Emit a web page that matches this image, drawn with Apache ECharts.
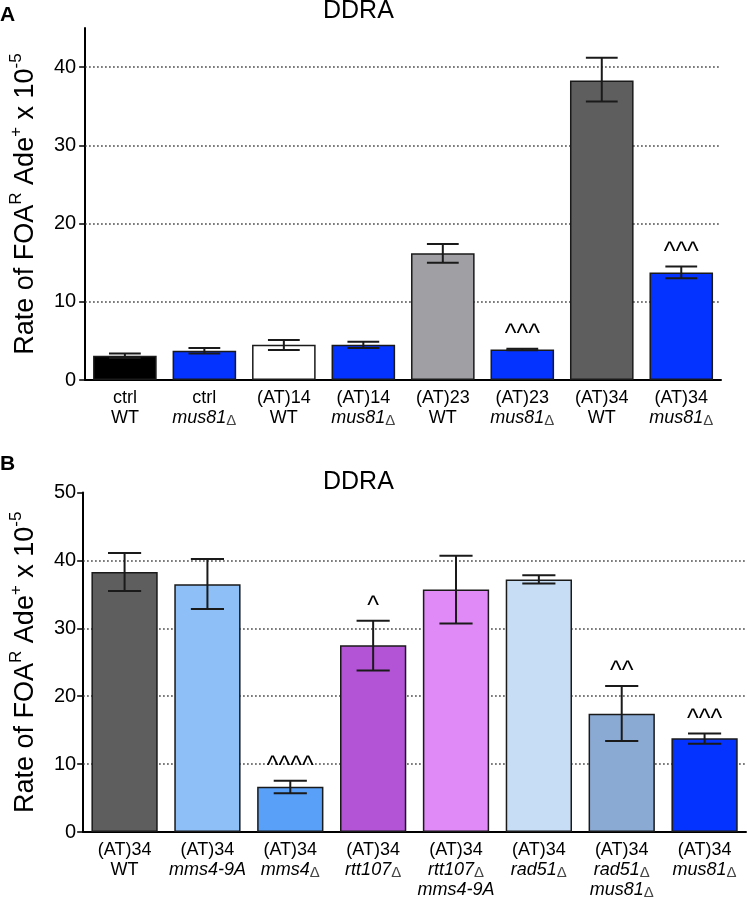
<!DOCTYPE html>
<html>
<head>
<meta charset="utf-8">
<script src="https://cdn.jsdelivr.net/npm/echarts@6/dist/echarts.min.js"></script>
<style>
html,body{margin:0;padding:0;background:#fff;}
#chart{width:747px;height:900px;}
</style>
</head>
<body>
<div id="chart"></div>
<script>
// ---------- DATA ----------
const topLine1 = ['ctrl', 'ctrl', '(AT)14', '(AT)14', '(AT)23', '(AT)23', '(AT)34', '(AT)34'];
const topLine2 = ['WT', 'mus81Δ', 'WT', 'mus81Δ', 'WT', 'mus81Δ', 'WT', 'mus81Δ'];
const topValues = [3.1, 3.75, 4.5, 4.5, 16.2, 3.9, 38.3, 13.75];
const topErrLow = [2.8, 3.4, 3.85, 4.1, 15.0, 3.8, 35.6, 13.0];
const topErrHigh = [3.4, 4.1, 5.1, 4.9, 17.4, 4.0, 41.2, 14.5];
const topMarks = ['', '', '', '', '', '^^^', '', '^^^'];
const topTicks = [0, 10, 20, 30, 40];

const botLine1 = ['(AT)34', '(AT)34', '(AT)34', '(AT)34', '(AT)34', '(AT)34', '(AT)34', '(AT)34'];
const botLine2 = ['WT', 'mms4-9A', 'mms4Δ', 'rtt107Δ', 'rtt107Δ', 'rad51Δ', 'rad51Δ', 'mus81Δ'];
const botLine3 = ['', '', '', '', 'mms4-9A', '', 'mus81Δ', ''];
const botValues = [38.3, 36.5, 6.65, 27.5, 35.7, 37.2, 17.4, 13.8];
const botErrLow = [35.5, 32.85, 5.7, 23.8, 30.7, 36.6, 13.4, 13.0];
const botErrHigh = [41.1, 40.2, 7.55, 31.1, 40.7, 37.8, 21.5, 14.5];
const botMarks = ['', '', '^^^^', '^', '', '', '^^', '^^^'];
const botTicks = [0, 10, 20, 30, 40, 50];

const gridValues = [10, 20, 30, 40];
const yTitle = 'Rate of FOA{s|R} Ade{s|+} x 10{s|-5}';
const panelTitle = 'DDRA';

// ---------- STYLES ----------
const topColors = ['#000000', '#0433ff', '#ffffff', '#0433ff', '#a0a0a4', '#0433ff', '#5e5e5e', '#0433ff'];
const botColors = ['#5e5e5e', '#8ebff7', '#58a0f8', '#b354d6', '#df8af6', '#c7ddf6', '#8aaad4', '#0433ff'];
const FONT = "'Liberation Sans', Arial, Helvetica, sans-serif";
const INK = '#1a1a1a';

function catNames(l1, l2, l3) {
  return l1.map((a, i) => [a, l2[i], l3 ? l3[i] : ''].filter(s => s).join('\n'));
}
function fmtLine(s) {
  if (s === 'WT') return s;
  return s.split('Δ').map(p => p ? '{i|' + p + '}' : '').join('{d|Δ}');
}
function labelFormatter(value) {
  const lines = value.split('\n');
  return lines.map((l, k) => k === 0 ? l : fmtLine(l)).join('\n');
}

const chart = echarts.init(document.getElementById('chart'), null, {renderer: 'canvas'});

function xAxisCfg(gridIndex, data) {
  return {
    type: 'category', gridIndex: gridIndex, data: data,
    axisLine: {lineStyle: {color: '#000', width: 2}},
    axisTick: {alignWithLabel: true, length: 5, lineStyle: {color: '#000', width: 1.5}},
    axisLabel: {
      interval: 0, color: '#000', fontSize: 18, lineHeight: 20, margin: 8, fontFamily: FONT,
      formatter: labelFormatter,
      rich: {
        i: {fontStyle: 'italic', fontSize: 18, lineHeight: 20, color: '#000', fontFamily: FONT},
        d: {fontSize: 15, lineHeight: 15, color: '#444', verticalAlign: 'bottom', fontFamily: FONT}
      }
    },
    splitLine: {show: false}
  };
}
function yAxisCfg(gridIndex, max, ticks, margin, gap) {
  return {
    type: 'value', gridIndex: gridIndex, min: 0, max: max, interval: 10,
    axisLine: {show: true, lineStyle: {color: '#000', width: 2}},
    axisTick: {show: true, length: 6, lineStyle: {color: '#000', width: 1.5}, customValues: ticks},
    axisLabel: {color: '#000', fontSize: 20, margin: margin, fontFamily: FONT, customValues: ticks,
      formatter: v => ticks.indexOf(v) >= 0 ? String(v) : ''},
    splitLine: {show: false},
    name: yTitle, nameLocation: 'middle', nameRotate: 90, nameGap: gap,
    nameTextStyle: {
      color: '#000', fontSize: 27, lineHeight: 35, fontFamily: FONT,
      rich: {s: {fontSize: 17, lineHeight: 17, verticalAlign: 'top', color: '#000', fontFamily: FONT}}
    }
  };
}

function barSeries(axisIndex, values, colors) {
  return {
    type: 'bar', xAxisIndex: axisIndex, yAxisIndex: axisIndex, z: 2,
    barCategoryGap: '20%',
    data: values.map((v, i) => ({value: v, itemStyle: {color: colors[i]}})),
    itemStyle: {borderColor: INK, borderWidth: 1.5},
    emphasis: {disabled: true},
    markLine: {
      silent: true, symbol: 'none', z: 1, animation: false,
      label: {show: false},
      lineStyle: {type: [1.5, 2.5], color: '#333', width: 1.5},
      emphasis: {disabled: true},
      data: gridValues.map(v => ({yAxis: v}))
    }
  };
}
function errSeries(axisIndex, lo, hi) {
  return {
    type: 'custom', xAxisIndex: axisIndex, yAxisIndex: axisIndex, z: 3, silent: true,
    data: lo.map((l, i) => [i, l, hi[i]]),
    encode: {x: 0, y: [1, 2]},
    renderItem: function (params, api) {
      const x = api.value(0);
      const pLo = api.coord([x, api.value(1)]);
      const pHi = api.coord([x, api.value(2)]);
      const hw = api.size([1, 0])[0] * 0.2;
      const st = {stroke: INK, lineWidth: 2};
      return {type: 'group', children: [
        {type: 'line', shape: {x1: pLo[0], y1: pLo[1], x2: pHi[0], y2: pHi[1]}, style: st},
        {type: 'line', shape: {x1: pHi[0] - hw, y1: pHi[1], x2: pHi[0] + hw, y2: pHi[1]}, style: st},
        {type: 'line', shape: {x1: pLo[0] - hw, y1: pLo[1], x2: pLo[0] + hw, y2: pLo[1]}, style: st}
      ]};
    }
  };
}
function markSeries(axisIndex, marks, hi) {
  const data = [];
  marks.forEach((m, i) => { if (m) data.push([i, hi[i]]); });
  return {
    type: 'custom', xAxisIndex: axisIndex, yAxisIndex: axisIndex, z: 4, silent: true,
    data: data, encode: {x: 0, y: 1},
    renderItem: function (params, api) {
      const idx = api.value(0);
      const p = api.coord([idx, api.value(1)]);
      return {type: 'text', x: p[0], y: p[1] - 1,
        style: {text: marks[idx], fill: '#000', font: '25px ' + FONT, align: 'center', verticalAlign: 'bottom'}};
    }
  };
}

const option = {
  animation: false,
  backgroundColor: '#fff',
  textStyle: {fontFamily: FONT},
  grid: [
    {left: 72, right: 26, top: 28, height: 352},
    {left: 68, right: 1, top: 492.5, height: 340}
  ],
  xAxis: [xAxisCfg(0, catNames(topLine1, topLine2)), xAxisCfg(1, catNames(botLine1, botLine2, botLine3))],
  yAxis: [yAxisCfg(0, 45, topTicks, 9, 36), yAxisCfg(1, 50, botTicks, 7, 38)],
  graphic: [
    {type: 'text', x: 0, y: 15, style: {text: 'A', font: 'bold 21px ' + FONT, fill: '#000', verticalAlign: 'middle'}},
    {type: 'text', x: 0, y: 464.5, style: {text: 'B', font: 'bold 21px ' + FONT, fill: '#000', verticalAlign: 'middle'}},
    {type: 'text', x: 323, y: 11, style: {text: panelTitle, font: '25px ' + FONT, fill: '#000', verticalAlign: 'middle'}},
    {type: 'text', x: 323, y: 482.5, style: {text: panelTitle, font: '25px ' + FONT, fill: '#000', verticalAlign: 'middle'}}
  ],
  series: [
    barSeries(0, topValues, topColors),
    errSeries(0, topErrLow, topErrHigh),
    markSeries(0, topMarks, topErrHigh),
    barSeries(1, botValues, botColors),
    errSeries(1, botErrLow, botErrHigh),
    markSeries(1, botMarks, botErrHigh)
  ]
};
chart.setOption(option);
</script>
</body>
</html>
